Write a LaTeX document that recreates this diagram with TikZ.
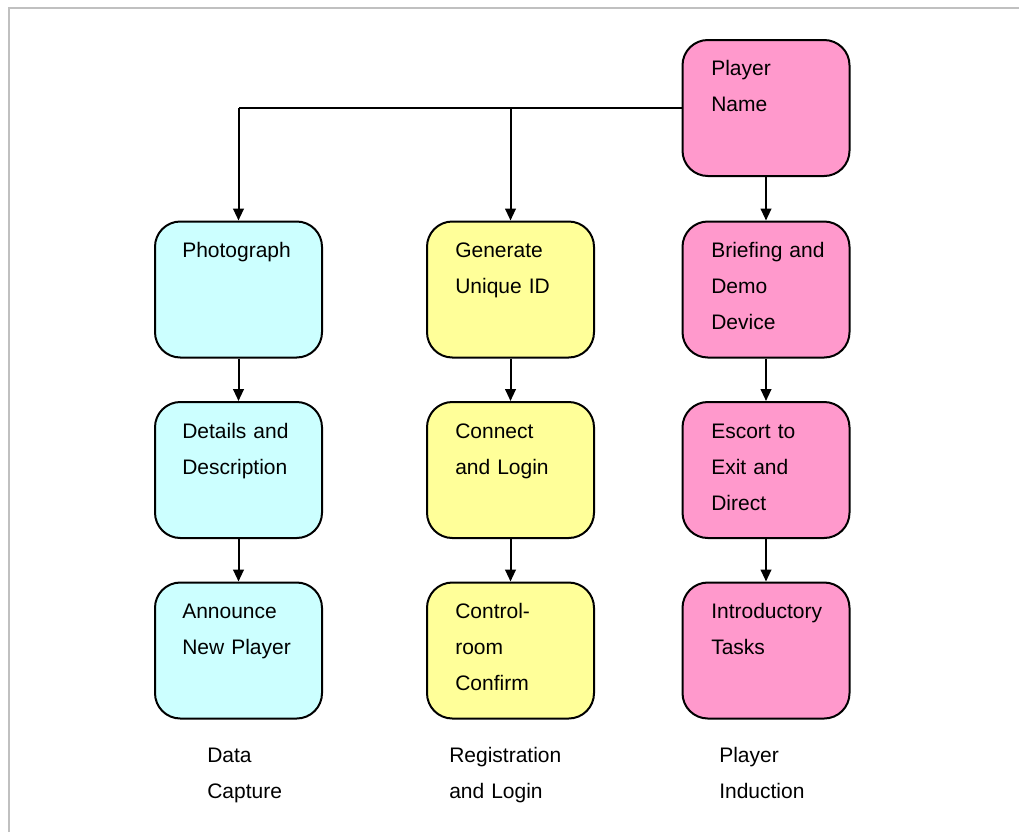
\documentclass[tikz,border=0pt]{standalone}
\usepackage{fontspec}
\setmainfont{Liberation Sans}
\usetikzlibrary{arrows.meta,calc}
\definecolor{cyanbox}{HTML}{CCFFFF}
\definecolor{yelbox}{HTML}{FFFF99}
\definecolor{pinkbox}{HTML}{FF99CC}
\definecolor{framegray}{HTML}{C0C0C0}
\begin{document}
\begin{tikzpicture}[x=0.75pt,y=-0.75pt,
  box/.style={draw=black,line width=1.5pt,rounded corners=19pt,minimum width=125.25pt,minimum height=102pt,inner sep=0pt},
  txt/.style={anchor=base west,inner sep=0pt,align=left,text width=120pt,font=\fontsize{15.75pt}{27pt}\selectfont},
  conn/.style={line width=1.5pt,-{Triangle[length=9pt,width=8pt]}},
  plain/.style={line width=1.5pt}]
\useasboundingbox (0,0) rectangle (1019,832);
\draw[framegray,line width=1.5pt] (8.5,832) -- (8.5,8) -- (1019,8);
% boxes
\node[box,fill=pinkbox] (pn) at (766,108) {};
\node[box,fill=cyanbox] (ph) at (238.5,289.5) {};
\node[box,fill=yelbox] (gu) at (510.5,289.5) {};
\node[box,fill=pinkbox] (bd) at (766,289.5) {};
\node[box,fill=cyanbox] (dd) at (238.5,470) {};
\node[box,fill=yelbox] (cl) at (510.5,470) {};
\node[box,fill=pinkbox] (ed) at (766,470) {};
\node[box,fill=cyanbox] (an) at (238.5,650.5) {};
\node[box,fill=yelbox] (cc) at (510.5,650.5) {};
\node[box,fill=pinkbox] (it) at (766,650.5) {};
% texts
\node[txt] (tpn) at (711,75.5) {Player\\Name};
\node[txt] (tph) at (182,257) {Photograph};
\node[txt] (tgu) at (455,257) {Generate\\Unique ID};
\node[txt] (tbd) at (711,257) {Briefing and\\Demo\\Device};
\node[txt] (tdd) at (182,438) {Details and\\Description};
\node[txt] (tcl) at (455,438) {Connect\\and Login};
\node[txt] (ted) at (711,438) {Escort to\\Exit and\\Direct};
\node[txt] (tan) at (182,618) {Announce\\New Player};
\node[txt] (tcc) at (455,618) {Control-\\room\\Confirm};
\node[txt] (tit) at (711,618) {Introductory\\Tasks};
% group labels
\node[txt] (g1) at (207,762.5) {Data\\Capture};
\node[txt] (g2) at (449,762.5) {Registration\\and Login};
\node[txt] (g3) at (719,762.5) {Player\\Induction};
% connectors
\coordinate (jl) at (238.5,108);
\coordinate (jm) at (510.5,108);
\draw[plain] (pn.west) -- (jl);
\draw[conn] (jl) -- (ph.north);
\draw[conn] (jm) -- (gu.north);
\draw[conn] (pn.south) -- (bd.north);
\draw[conn] (ph.south) -- (dd.north);
\draw[conn] (dd.south) -- (an.north);
\draw[conn] (gu.south) -- (cl.north);
\draw[conn] (cl.south) -- (cc.north);
\draw[conn] (bd.south) -- (ed.north);
\draw[conn] (ed.south) -- (it.north);
\end{tikzpicture}
\end{document}
